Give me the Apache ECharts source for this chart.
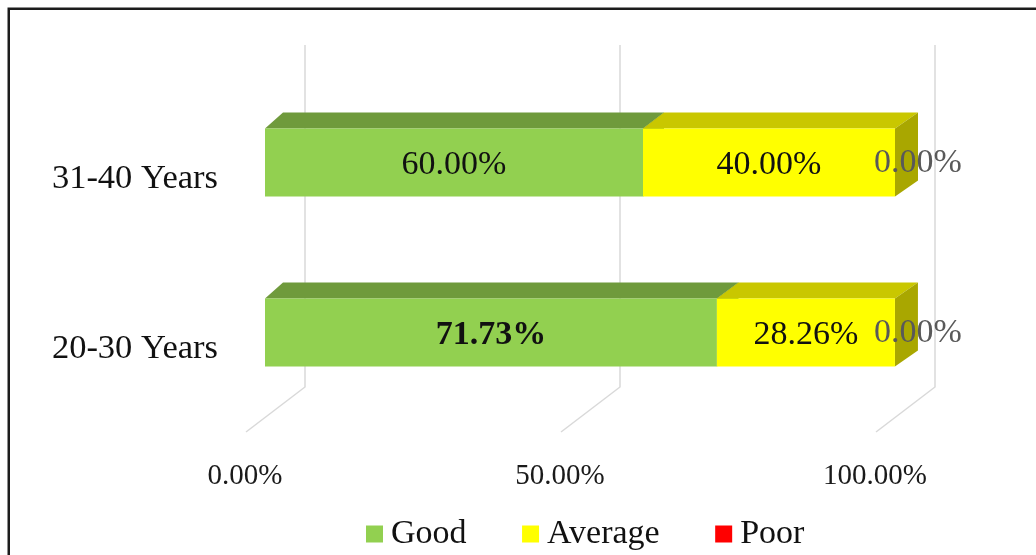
<!DOCTYPE html>
<html>
<head>
<meta charset="utf-8">
<script src="https://cdn.jsdelivr.net/npm/echarts@6/dist/echarts.min.js"></script>
<style>
  html, body { margin: 0; padding: 0; background: #ffffff; }
  #chart { width: 1036px; height: 555px; }
</style>
</head>
<body>
<div id="chart"></div>
<script>
// Rating share by age group (percent)
const categories = ['20-30 Years', '31-40 Years'];
const good = [71.73, 60.00];
const average = [28.26, 40.00];
const poor = [0.00, 0.00];
const seriesNames = ['Good', 'Average', 'Poor'];
const xTicks = [0, 50, 100];

const FONT = 'Liberation Serif';
const BAR_H = 68;      // front face height in px
const TOP_DY = 16;     // vertical depth of the 3D box

const maxValue = Math.max(...good, ...average, ...poor);

// Box faces for each series: front, top, side
const palette = {
  Good:    { front: '#92D050', top: '#6F9A3C', side: '#5E8A30' },
  Average: { front: '#FFFF00', top: '#C9C700', side: '#A9A700' },
  Poor:    { front: '#FF0000', top: '#C00000', side: '#A00000' }
};

function pct(v) { return v.toFixed(2) + '%'; }

// Stacked 3D box segment: value range [start, start + value] along x
function boxSeries(name, values, starts, labelOpts) {
  const colors = palette[name];
  return {
    type: 'custom',
    name: name,
    z: 3,
    itemStyle: { color: colors.front },
    data: values.map((v, i) => [i, starts[i], v]),
    encode: { y: 0, x: [1, 2] },
    renderItem(params, api) {
      const cat = api.value(0);
      const start = api.value(1);
      const val = api.value(2);
      const cs = params.coordSys;
      const p0 = api.coord([start, cat]);
      const p1 = api.coord([start + val, cat]);
      const depth = x => 18 + 5 * (x - cs.x) / cs.width;
      const yt = p0[1] - BAR_H / 2;
      const yb = p0[1] + BAR_H / 2;
      const x0 = p0[0], x1 = p1[0];
      const children = [];
      if (val > 0) {
        children.push({
          type: 'polygon',
          shape: { points: [[x0, yt], [x1, yt], [x1 + depth(x1), yt - TOP_DY], [x0 + depth(x0), yt - TOP_DY]] },
          style: { fill: colors.top }
        });
        children.push({
          type: 'polygon',
          shape: { points: [[x1, yt], [x1 + depth(x1), yt - TOP_DY], [x1 + depth(x1), yb - TOP_DY], [x1, yb]] },
          style: { fill: colors.side }
        });
        children.push({
          type: 'rect',
          shape: { x: x0, y: yt, width: x1 - x0, height: BAR_H },
          style: { fill: colors.front }
        });
      }
      const lx = val > 0 ? (x0 + x1) / 2 : x1 + labelOpts.dx;
      children.push({
        type: 'text',
        x: lx,
        y: p0[1] + labelOpts.dy,
        z2: 10,
        style: {
          text: pct(val),
          fill: labelOpts.color,
          font: (val === maxValue ? 'bold ' : '') + '34px "' + FONT + '"',
          align: 'center',
          verticalAlign: 'middle'
        }
      });
      return { type: 'group', children: children };
    }
  };
}

const avgStarts = good.slice();
const poorStarts = good.map((g, i) => g + average[i]);

const chart = echarts.init(document.getElementById('chart'), null, { renderer: 'canvas' });

chart.setOption({
  animation: false,
  backgroundColor: '#ffffff',
  grid: { left: 265, right: 141, top: 77.5, bottom: 137.5, containLabel: false },
  xAxis: {
    type: 'value',
    min: 0,
    max: 100,
    interval: 50,
    axisLine: { show: false },
    axisTick: { show: false },
    splitLine: { show: false },
    axisLabel: {
      formatter: v => pct(v),
      fontFamily: FONT,
      fontSize: 29,
      color: '#1a1a1a',
      margin: 44,
      padding: [0, 40, 0, 0]
    }
  },
  yAxis: {
    type: 'category',
    data: categories,
    axisLine: { show: false },
    axisTick: { show: false },
    splitLine: { show: false },
    axisLabel: {
      fontFamily: FONT,
      fontSize: 34.5,
      color: '#111111',
      margin: 47,
      verticalAlign: 'top',
      lineHeight: 32
    }
  },
  legend: {
    data: seriesNames,
    left: 366,
    top: 516,
    padding: 0,
    icon: 'rect',
    itemWidth: 17,
    itemHeight: 17,
    itemGap: 55.5,
    selectedMode: false,
    textStyle: {
      fontFamily: FONT,
      fontSize: 34,
      color: '#111111',
      lineHeight: 36,
      padding: [0, 0, 0, 3]
    }
  },
  graphic: [{
    type: 'polyline',
    silent: true,
    shape: { points: [[8.75, 600], [8.75, 8.75], [1100, 8.75]] },
    style: { stroke: '#1c1c1c', lineWidth: 2.5, fill: null }
  }],
  series: [
    {
      // back wall and floor gridlines
      type: 'custom',
      name: 'gridlines',
      silent: true,
      z: 1,
      data: xTicks.map(v => [v, 0]),
      encode: { x: 0, y: 1 },
      renderItem(params, api) {
        const cs = params.coordSys;
        const x = api.coord([api.value(0), 0])[0];
        const top = cs.y - 32.5;
        const bot = cs.y + cs.height - 30.5;
        return {
          type: 'polyline',
          shape: { points: [[x + 40, top], [x + 40, bot], [x - 19, bot + 45]] },
          style: { stroke: '#d9d9d9', lineWidth: 1.5, fill: null }
        };
      }
    },
    boxSeries('Good', good, good.map(() => 0), { dx: 0, dy: 3, color: '#111111' }),
    boxSeries('Average', average, avgStarts, { dx: 0, dy: 3, color: '#111111' }),
    boxSeries('Poor', poor, poorStarts, { dx: 23, dy: 1, color: '#595959' })
  ]
});
</script>
</body>
</html>
